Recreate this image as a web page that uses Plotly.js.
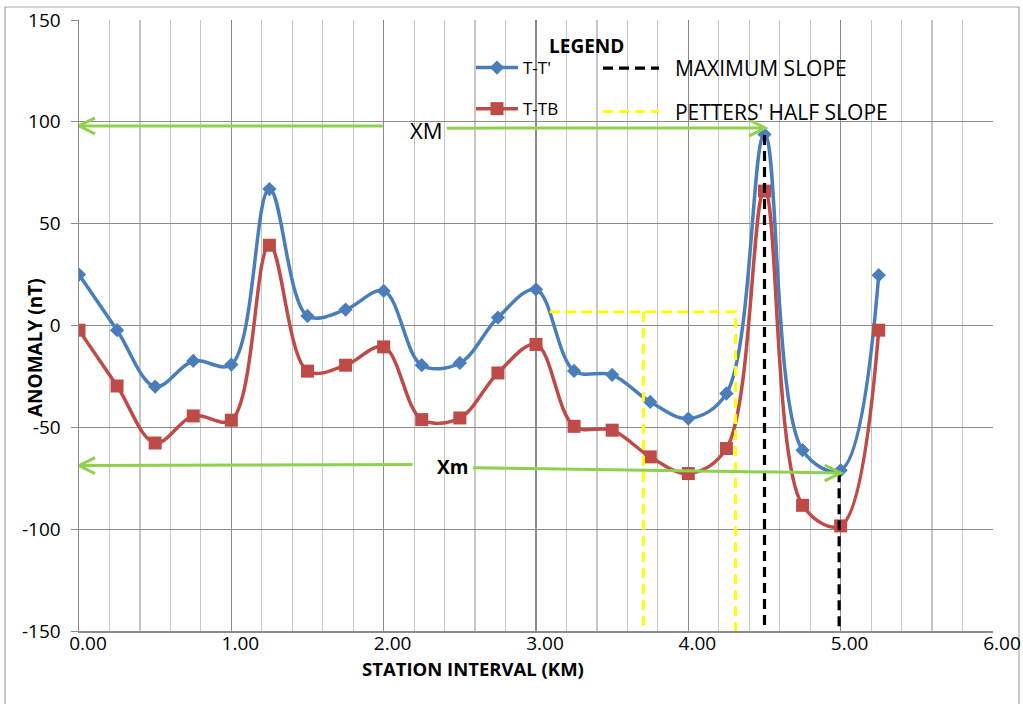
<!DOCTYPE html>
<html><head><meta charset="utf-8">
<script src="https://cdn.plot.ly/plotly-3.0.1.min.js"></script>
<style>html,body{margin:0;padding:0;background:#fff}</style>
</head><body><div id="chart" style="width:1023px;height:704px"></div>
<script>
// ---- data ----
const stationKm = [0,0.25,0.5,0.75,1.0,1.25,1.5,1.75,2.0,2.25,2.5,2.75,3.0,3.25,3.5,3.75,4.0,4.25,4.5,4.75,5.0,5.25];
const anomalyTT  = [25,-2.3,-30,-17.4,-19.2,67,4.7,7.8,17,-19.5,-18.4,3.9,17.7,-22.3,-24.2,-37.5,-45.7,-33.4,93.8,-61.2,-71.1,24.7];
const anomalyTTB = [-2.3,-29.7,-57.7,-44.4,-46.5,39.4,-22.4,-19.5,-10.5,-46.2,-45.4,-23.3,-9.3,-49.5,-51.4,-64.5,-72.7,-60.4,66,-88.3,-98.4,-2.3];
const seriesNames = ["T-T'", "T-TB"];
// interpretation lines
const maxSlopeX  = [4.5,4.5,null,4.99,4.99];
const maxSlopeY  = [93.5,-150,null,-72,-150];
const halfSlopeX = [3.09,4.31,4.31,null,3.705,3.705];
const halfSlopeY = [6.7,6.7,-150,null,6.7,-150];
const guideNames = ["MAXIMUM SLOPE", "PETTERS' HALF SLOPE"];
// Xm / XM arrows: [x0, y0, tipX, tipY]
const xmUpperArrows = [[1.994,98.0,0,98.0],[2.414,96.9,4.504,97.0]];
const xmLowerArrows = [[2.19,-68.3,0,-68.8],[2.587,-69.9,5.0,-72.4]];
const xTickVals = [0,1,2,3,4,5,6];
const xTickText = ["0.00","1.00","2.00","3.00","4.00","5.00","6.00"];
const yTickVals = [-150,-100,-50,0,50,100,150];
const yTickText = ["-150","-100","-50","0","50","100","150"];

const FONT = "Open Sans, sans-serif";
const GREEN = "#8fd14f";
const traces = [];
traces.push({x: stationKm, y: anomalyTT, name: seriesNames[0], type:'scatter', mode:'lines+markers',
  line:{color:'#4a7ebb', width:3.5, shape:'spline', smoothing:1}, marker:{symbol:'diamond', size:11, color:'#4a7ebb'},
  legend:'legend', legendgroup:'a'});
traces.push({x: stationKm, y: anomalyTTB, name: seriesNames[1], type:'scatter', mode:'lines+markers',
  line:{color:'#be4b48', width:3.5, shape:'spline', smoothing:1}, marker:{symbol:'square', size:13, color:'#be4b48'},
  legend:'legend', legendgroup:'b'});
traces.push({x: maxSlopeX, y: maxSlopeY, name: '\u00a0\u00a0'+guideNames[0], type:'scatter', mode:'lines',
  line:{color:'#000000', width:3.2, dash:'10px,6px'}, legend:'legend2', legendgroup:'c', cliponaxis:false});
traces.push({x: halfSlopeX, y: halfSlopeY, name: '\u00a0\u00a0'+guideNames[1], type:'scatter', mode:'lines',
  line:{color:'#ffff00', width:3, dash:'10px,6px'}, legend:'legend2', legendgroup:'d', cliponaxis:false});

const shapes = [];
const annotations = [];
function addArrow(a){
  traces.push({x:[a[0],a[2]], y:[a[1],a[3]], type:'scatter', mode:'lines', showlegend:false, hoverinfo:'skip',
    line:{color:GREEN, width:3}});
  const dir = a[2] > a[0] ? 1 : -1;
  const dx = 0.105, dy = 3.9;
  shapes.push({type:'path', xref:'x', yref:'y', layer:'above',
    path:`M ${a[2]-dir*dx},${a[3]+dy} L ${a[2]},${a[3]} L ${a[2]-dir*dx},${a[3]-dy}`,
    line:{color:GREEN, width:3}});
}
xmUpperArrows.forEach(addArrow);
xmLowerArrows.forEach(addArrow);

function ann(o){ annotations.push(Object.assign({showarrow:false, xanchor:'center', yanchor:'middle'}, o)); }
ann({text:'XM', x:2.28, y:96, xref:'x', yref:'y', font:{family:FONT, size:22, color:'#000'}});
ann({text:'<b>Xm</b>', x:2.45, y:-69.6, xref:'x', yref:'y', font:{family:FONT, size:19, color:'#000'}});
ann({text:'<b>LEGEND</b>', x:(586-79)/914, y:(631-46)/611, xref:'paper', yref:'paper', font:{family:FONT, size:19, color:'#000'}});
ann({text:'<b>ANOMALY (nT)</b>', x:(35-79)/914, y:(631-348)/611, xref:'paper', yref:'paper', textangle:-90, font:{family:FONT, size:19, color:'#000'}});
ann({text:'<b>STATION INTERVAL (KM)</b>', x:(473-79)/914, y:(631-669)/611, xref:'paper', yref:'paper', font:{family:FONT, size:18.5, color:'#000'}});
// outer chart border
shapes.push({type:'rect', xref:'paper', yref:'paper', x0:(5-79)/914, x1:(1019-79)/914, y0:-0.2, y1:(631-7)/611,
  line:{color:'#a6a6a6', width:1.2}, layer:'below'});

const layout = {
  width:1023, height:704,
  margin:{l:79, r:30, t:20, b:73},
  paper_bgcolor:'#fff', plot_bgcolor:'#fff',
  font:{family:FONT, color:'#000'},
  xaxis:{range:[0,6], tickvals:xTickVals, ticktext:xTickText, showgrid:true, gridcolor:'#8c8c8c', gridwidth:1.2,
    minor:{dtick:0.2, showgrid:true, gridcolor:'#c6c6c6', gridwidth:1.2},
    showline:true, linecolor:'#8c8c8c', linewidth:1.5, mirror:false, zeroline:false, ticks:'',
    tickfont:{family:FONT, size:19, color:'#000'}, ticklabelshift:9, ticklabelstandoff:-5},
  yaxis:{range:[-150,150], tickvals:yTickVals, ticktext:yTickText, showgrid:true, gridcolor:'#8c8c8c', gridwidth:1.2,
    showline:true, linecolor:'#8c8c8c', linewidth:1.5, zeroline:false, ticks:'outside', ticklen:7, tickcolor:'#8c8c8c',
    tickfont:{family:FONT, size:19, color:'#000'}, ticklabelstandoff:6},
  legend:{x:(471-79)/914, xanchor:'left', y:(631-50)/611, yanchor:'top', bgcolor:'rgba(0,0,0,0)', borderwidth:0,
    font:{family:FONT, size:17, color:'#000'}, itemwidth:42, tracegroupgap:16, traceorder:'grouped', itemclick:false},
  legend2:{x:(598-79)/914, xanchor:'left', y:(631-48)/611, yanchor:'top', bgcolor:'rgba(0,0,0,0)', borderwidth:0,
    font:{family:FONT, size:21, color:'#000'}, itemwidth:56, tracegroupgap:13, traceorder:'grouped', itemclick:false},
  shapes: shapes,
  annotations: annotations,
  showlegend:true
};
Plotly.newPlot('chart', traces, layout, {displayModeBar:false, staticPlot:true});
</script>
</body></html>
